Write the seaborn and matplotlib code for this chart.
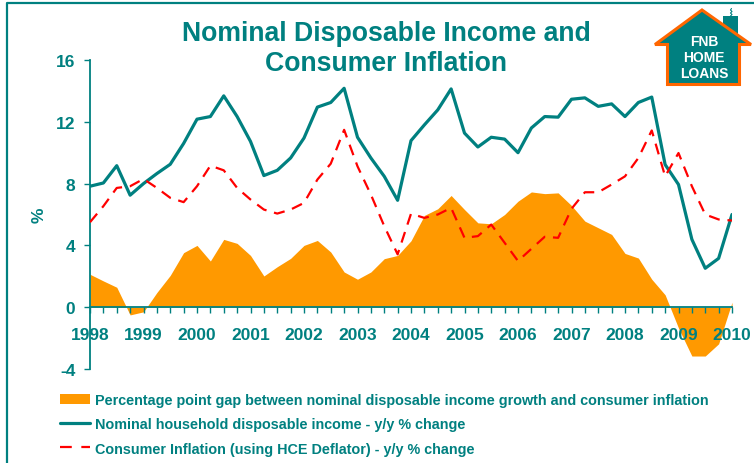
import numpy as np
import pandas as pd
import matplotlib
matplotlib.use("Agg")
import matplotlib.pyplot as plt
import seaborn as sns
from matplotlib.patches import Polygon, Rectangle, Patch
from matplotlib.lines import Line2D

# ---------------- data ----------------
years = list(range(1998, 2011))
quarters = [y + q / 4 for y in range(1998, 2010) for q in range(4)] + [2010.0]

income = [7.83, 8.04, 9.16, 7.25, 8.0, 8.65, 9.25, 10.6, 12.17, 12.34, 13.68, 12.34,
          10.73, 8.52, 8.86, 9.66, 10.95, 12.95, 13.25, 14.17, 11.0, 9.66, 8.47, 6.92,
          10.78, 11.8, 12.77, 14.13, 11.27, 10.37, 11.0, 10.88, 10.0, 11.6, 12.34, 12.3,
          13.46, 13.55, 13.0, 13.16, 12.34, 13.25, 13.6, 9.23, 7.94, 4.39, 2.52, 3.16, 6.0]

inflation = [5.5, 6.54, 7.72, 7.83, 8.3, 7.72, 7.08, 6.8, 7.83, 9.16, 8.86, 7.72,
             6.97, 6.32, 6.06, 6.32, 6.75, 8.26, 9.29, 11.48, 9.12, 7.29, 5.25, 3.42,
             6.05, 5.78, 6.0, 6.43, 4.49, 4.6, 5.35, 4.17, 2.99, 3.78, 4.56, 4.49,
             6.37, 7.44, 7.44, 7.94, 8.47, 9.66, 11.44, 8.47, 9.98, 7.83, 6.0, 5.68, 5.61]

gap = [2.13, 1.7, 1.29, -0.5, -0.3, 0.95, 2.06, 3.53, 4.0, 2.99, 4.39, 4.13,
       3.35, 2.02, 2.62, 3.16, 4.0, 4.32, 3.57, 2.28, 1.81, 2.28, 3.14, 3.35,
       4.3, 5.94, 6.37, 7.23, 6.32, 5.46, 5.4, 6.0, 6.86, 7.46, 7.35, 7.4,
       6.58, 5.57, 5.14, 4.71, 3.48, 3.18, 1.81, 0.8, -1.35, -3.16, -3.16, -2.37, 0.32]

y_ticks = [-4, 0, 4, 8, 12, 16]
title = "Nominal Disposable Income and\nConsumer Inflation"
y_label = "%"
legend_labels = [
    "Percentage point gap between nominal disposable income growth and consumer inflation",
    "Nominal household disposable income - y/y % change",
    "Consumer Inflation (using HCE Deflator) - y/y % change",
]
logo_lines = ["FNB", "HOME", "LOANS"]

# ---------------- style ----------------
sns.set_theme(style="white")
plt.rcParams['font.family'] = ['Liberation Sans', 'DejaVu Sans']
plt.rcParams['axes.unicode_minus'] = False

TEAL = '#008080'
ORANGE = '#FF9900'
RED = '#FF0000'

df = pd.DataFrame({'date': quarters, 'income': income,
                   'inflation': inflation, 'gap': gap})

fig = plt.figure(figsize=(7.54, 4.64), dpi=100)
fig.patch.set_facecolor('white')
ax = fig.add_axes([90 / 754, 94 / 464, 642 / 754, 309 / 464])
ax.set_facecolor('none')

ax.fill_between(df['date'], df['gap'], 0, color=ORANGE, lw=0, zorder=0.5)
sns.lineplot(data=df, x='date', y='income', color=TEAL, lw=2.3, ax=ax,
             legend=False, errorbar=None, zorder=3)
sns.lineplot(data=df, x='date', y='inflation', color=RED, lw=1.6, ax=ax,
             legend=False, errorbar=None, zorder=4)
ax.lines[-1].set_dashes((5, 3.5))

ax.set_xlim(1998, 2010)
ax.set_ylim(-4, 16)
ax.set_xticks(years)
ax.set_xticks(quarters, minor=True)
ax.set_yticks(y_ticks)
ax.set_xticklabels([str(y) for y in years])
ax.set_xlabel('')
ax.set_ylabel(y_label, fontsize=12.5, fontweight='bold', color=TEAL)
ax.yaxis.set_label_coords(-0.067, 0.5)
ax.xaxis.set_zorder(5)

for s in ['top', 'right']:
    ax.spines[s].set_visible(False)
ax.spines['bottom'].set_position(('data', 0))
for s in ['left', 'bottom']:
    ax.spines[s].set_color(TEAL)
    ax.spines[s].set_linewidth(1.3)
    ax.spines[s].set_zorder(2)

ax.tick_params(axis='x', which='both', direction='out', length=4.5, width=1,
               color=TEAL, pad=10, bottom=True)
ax.tick_params(axis='y', direction='out', length=4.5, width=1, color=TEAL,
               pad=6, left=True)
for lab in ax.get_xticklabels() + ax.get_yticklabels():
    lab.set_fontsize(12.5)
    lab.set_fontweight('bold')
    lab.set_color(TEAL)

# title
fig.text(386 / 754, 1 - 21 / 464, title, ha='center', va='top', fontsize=19.2,
         fontweight='bold', color=TEAL, linespacing=1.19)

# legend
handles = [Patch(facecolor=ORANGE, edgecolor='none'),
           Line2D([], [], color=TEAL, lw=2.3),
           Line2D([], [], color=RED, lw=1.6, dashes=(5.3, 4.3))]
leg = fig.legend(handles, legend_labels, loc='upper left',
                 bbox_to_anchor=(60 / 754, 1 - 394 / 464),
                 bbox_transform=fig.transFigure, frameon=False, borderpad=0,
                 borderaxespad=0, handlelength=2.08, handletextpad=0.31,
                 labelspacing=0.71, prop={'weight': 'bold', 'size': 10.4})
for t in leg.get_texts():
    t.set_color(TEAL)

# overlay: frame and logo
ov = fig.add_axes([0, 0, 1, 1], facecolor='none', zorder=5)
ov.set_xlim(0, 754)
ov.set_ylim(464, 0)
ov.axis('off')
ov.plot([7, 7, 754], [464, 4, 4], color=TEAL, lw=1.6, solid_capstyle='butt')
ov.add_patch(Rectangle((723, 17), 15, 22, facecolor=TEAL, edgecolor='none'))
ov.plot([730.5, 732, 730.5, 732, 730.5, 731.5], [17, 15.5, 14, 12.5, 11, 9.5],
        color=TEAL, lw=0.8)
house = [(702, 11), (751, 45.5), (739.5, 45.5), (739.5, 85.5), (667.5, 85.5),
         (667.5, 45.5), (655, 45.5)]
ov.add_patch(Polygon(house, closed=True, facecolor=TEAL, edgecolor='#FF6600',
                     lw=2.2, joinstyle='miter'))
for txt, yy in zip(logo_lines, [41.7, 58.3, 74.3]):
    ov.text(704, yy, txt, ha='center', va='center', color='white',
            fontsize=10, fontweight='bold')

fig.savefig('out.png', dpi=100, facecolor='white')
